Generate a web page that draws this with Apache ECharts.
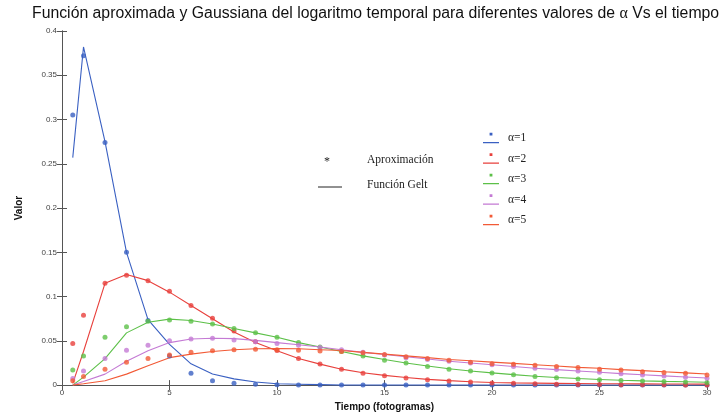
<!DOCTYPE html>
<html>
<head>
    <meta charset="UTF-8">
    <title>Función Gelt</title>
    <style>
        html, body { margin: 0; padding: 0; background: #fff; }
        #chart { width: 724px; height: 417px; }
    </style>
</head>
<body>
    <div id="chart"></div>
    <script src="https://cdn.jsdelivr.net/npm/echarts@6/dist/echarts.min.js"></script>
    <script>
        // tiempo (fotogramas)
        var tiempos = [0.5, 1, 2, 3, 4, 5, 6, 7, 8, 9, 10, 11, 12, 13, 14, 15,
                       16, 17, 18, 19, 20, 21, 22, 23, 24, 25, 26, 27, 28, 29, 30];

        // aproximacion (asteriscos)
        var aprox1 = [0.305, 0.372, 0.274, 0.150, 0.073, 0.033, 0.0135, 0.005, 0.002, 0.001, 0.0005, 0, 0, 0, 0, 0,
                      0, 0, 0, 0, 0, 0, 0, 0, 0, 0, 0, 0, 0, 0, 0];
        var aprox2 = [0.047, 0.079, 0.115, 0.124, 0.118, 0.106, 0.090, 0.0755, 0.061, 0.049, 0.039, 0.030, 0.0237, 0.018, 0.0135, 0.0105,
                      0.008, 0.006, 0.0045, 0.0035, 0.0025, 0.002, 0.0015, 0.001, 0.0008, 0.0006, 0.0005, 0.0004, 0.0003, 0.0002, 0.0002];
        var aprox3 = [0.017, 0.033, 0.054, 0.066, 0.072, 0.0736, 0.072, 0.069, 0.064, 0.059, 0.054, 0.048, 0.043, 0.038, 0.033, 0.028,
                      0.025, 0.021, 0.018, 0.016, 0.0138, 0.0116, 0.0098, 0.0083, 0.0068, 0.006, 0.0053, 0.0046, 0.004, 0.0034, 0.003];
        var aprox4 = [0.0075, 0.016, 0.030, 0.0394, 0.045, 0.050, 0.052, 0.053, 0.051, 0.049, 0.047, 0.045, 0.0425, 0.040, 0.037, 0.034,
                      0.031, 0.029, 0.027, 0.025, 0.023, 0.021, 0.019, 0.0175, 0.016, 0.0145, 0.0128, 0.0115, 0.0102, 0.009, 0.0078];
        var aprox5 = [0.005, 0.0098, 0.018, 0.0258, 0.030, 0.034, 0.0372, 0.0387, 0.040, 0.0406, 0.040, 0.0395, 0.0385, 0.038, 0.0365, 0.0346,
                      0.032, 0.030, 0.028, 0.0258, 0.024, 0.0235, 0.0225, 0.021, 0.020, 0.018, 0.017, 0.015, 0.0143, 0.0135, 0.0113];

        // funcion Gelt (lineas)
        var gelt1 = [0.257, 0.382, 0.275, 0.150, 0.074, 0.046, 0.024, 0.0125, 0.007, 0.0035, 0.0015, 0.001, 0.0005, 0, 0, 0,
                     0, 0, 0, 0, 0, 0, 0, 0, 0, 0, 0, 0, 0, 0, 0];
        var gelt2 = [0.002, 0.038, 0.115, 0.125, 0.118, 0.105, 0.090, 0.075, 0.060, 0.048, 0.0387, 0.030, 0.0237, 0.018, 0.014, 0.011,
                     0.0085, 0.0065, 0.005, 0.0038, 0.003, 0.0025, 0.0022, 0.002, 0.0018, 0.0016, 0.0015, 0.0014, 0.0013, 0.0012, 0.0011];
        var gelt3 = [0.0, 0.009, 0.030, 0.059, 0.071, 0.0745, 0.073, 0.069, 0.064, 0.059, 0.054, 0.048, 0.043, 0.038, 0.033, 0.029,
                     0.025, 0.0215, 0.0185, 0.016, 0.0138, 0.0118, 0.010, 0.0086, 0.0074, 0.0064, 0.0055, 0.0048, 0.0042, 0.0037, 0.0032];
        var gelt4 = [0.0, 0.004, 0.0124, 0.027, 0.0387, 0.048, 0.052, 0.053, 0.0525, 0.0505, 0.048, 0.0455, 0.043, 0.040, 0.037, 0.0345,
                     0.032, 0.0295, 0.027, 0.025, 0.023, 0.021, 0.019, 0.0175, 0.016, 0.0145, 0.013, 0.0117, 0.0104, 0.0092, 0.008];
        var gelt5 = [0.0, 0.0015, 0.005, 0.0124, 0.0218, 0.031, 0.035, 0.038, 0.040, 0.041, 0.0412, 0.041, 0.040, 0.039, 0.037, 0.035,
                     0.033, 0.031, 0.029, 0.0275, 0.026, 0.0245, 0.023, 0.0215, 0.020, 0.019, 0.0175, 0.0163, 0.015, 0.0138, 0.0125];

        var nombres = ['α=1', 'α=2', 'α=3', 'α=4', 'α=5'];
        var colores = ['#3a60c2', '#e8403c', '#5cc048', '#c47ad4', '#f25a36'];
        var aproximaciones = [aprox1, aprox2, aprox3, aprox4, aprox5];
        var gelts = [gelt1, gelt2, gelt3, gelt4, gelt5];

        function pares(ys) {
            return tiempos.map(function (t, i) { return [t, ys[i]]; });
        }

        var series = [];
        nombres.forEach(function (n, k) {
            series.push({
                name: n,
                type: 'line',
                data: pares(gelts[k]),
                showSymbol: false,
                lineStyle: { color: colores[k], width: 1.1 },
                itemStyle: { color: colores[k] },
                silent: true,
                z: 2
            });
            series.push({
                name: n,
                type: 'scatter',
                data: pares(aproximaciones[k]),
                symbol: 'circle',
                symbolSize: 5,
                itemStyle: { color: colores[k] },
                z: 3
            });
        });

        var ejeColor = '#555';
        var option = {
            animation: false,
            title: {
                text: 'Función aproximada y Gaussiana del logaritmo temporal para diferentes valores de {a|α} Vs el tiempo',
                left: 27,
                top: 1,
                textStyle: {
                    fontFamily: 'Liberation Sans, Arial, sans-serif',
                    fontSize: 15.8,
                    fontWeight: 'normal',
                    color: '#111',
                    rich: { a: { fontFamily: 'Liberation Serif, serif', fontSize: 16, color: '#111' } }
                }
            },
            grid: { left: 62, right: 17, top: 31, bottom: 31 },
            legend: {
                data: nombres,
                orient: 'vertical',
                left: 478,
                top: 127,
                itemWidth: 16,
                itemHeight: 13,
                itemGap: 8.5,
                icon: 'path://M7,0 h3 v3 h-3 Z M0,10 h17 v1.3 h-17 Z',
                textStyle: { fontFamily: 'Liberation Serif, serif', fontSize: 11.5, color: '#222', padding: [0, 0, 0, 4] }
            },
            xAxis: [{
                type: 'value', min: 0, max: 30, interval: 5,
                name: 'Tiempo (fotogramas)', nameLocation: 'middle', nameGap: 15,
                nameTextStyle: { fontFamily: 'Liberation Sans, Arial, sans-serif', fontSize: 10, fontWeight: 'bold', color: '#111' },
                axisLine: { show: true, lineStyle: { color: ejeColor } },
                axisTick: { inside: true, length: 5, lineStyle: { color: ejeColor } },
                axisLabel: { fontSize: 8, color: '#444', margin: 4 },
                splitLine: { show: false }
            }, {
                type: 'value', min: 0, max: 30, interval: 5, position: 'top',
                axisLine: { show: true, lineStyle: { color: ejeColor } },
                axisTick: { inside: true, length: 5, lineStyle: { color: ejeColor } },
                axisLabel: { show: false },
                splitLine: { show: false }
            }],
            yAxis: [{
                type: 'value', min: 0, max: 0.4, interval: 0.05,
                name: 'Valor', nameLocation: 'middle', nameGap: 38, nameRotate: 90,
                nameTextStyle: { fontFamily: 'Liberation Sans, Arial, sans-serif', fontSize: 10, fontWeight: 'bold', color: '#111' },
                axisLine: { show: true, lineStyle: { color: ejeColor } },
                axisTick: { inside: true, length: 5, lineStyle: { color: ejeColor } },
                axisLabel: { fontSize: 8, color: '#444', margin: 5 },
                splitLine: { show: false }
            }, {
                type: 'value', min: 0, max: 0.4, interval: 0.05, position: 'right',
                axisLine: { show: true, lineStyle: { color: ejeColor } },
                axisTick: { inside: true, length: 5, lineStyle: { color: ejeColor } },
                axisLabel: { show: false },
                splitLine: { show: false }
            }],
            graphic: [
                { type: 'text', left: 324, top: 156, style: { text: '*', font: '12px Liberation Serif, serif', fill: '#222' } },
                { type: 'text', left: 367, top: 154, style: { text: 'Aproximación', font: '11.5px Liberation Serif, serif', fill: '#222' } },
                { type: 'line', shape: { x1: 318, y1: 187, x2: 342, y2: 187 }, style: { stroke: '#222', lineWidth: 1 } },
                { type: 'text', left: 367, top: 179, style: { text: 'Función Gelt', font: '11.5px Liberation Serif, serif', fill: '#222' } }
            ],
            series: series
        };

        var myChart = echarts.init(document.getElementById('chart'));
        myChart.setOption(option);
    </script>
</body>
</html>
